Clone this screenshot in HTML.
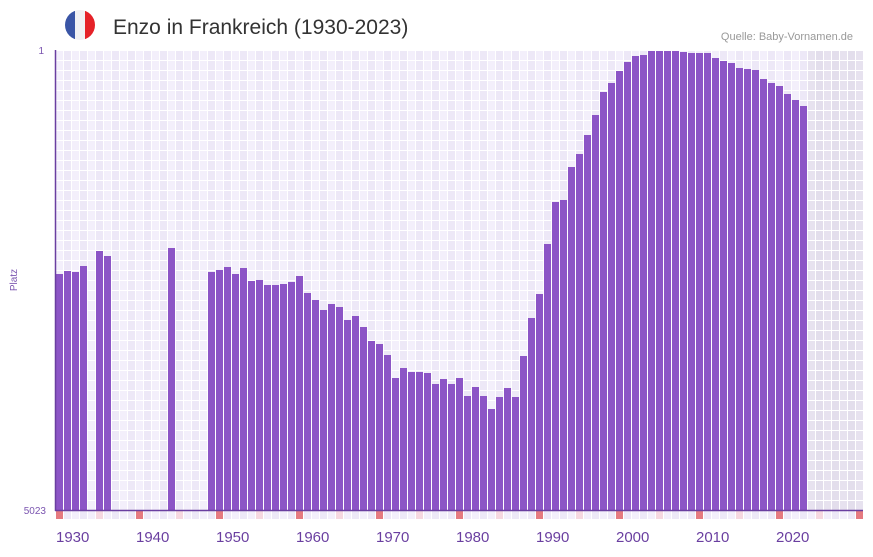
<!DOCTYPE html>
<html><head><meta charset="utf-8"><style>
body{margin:0;background:#fff;font-family:"Liberation Sans",sans-serif}
</style></head><body>
<svg id="s" width="873" height="552" xmlns="http://www.w3.org/2000/svg" font-family="Liberation Sans, sans-serif">
<defs><clipPath id="c"><circle cx="80" cy="25" r="15"/></clipPath></defs>
<g clip-path="url(#c)"><rect x="65" y="10" width="10" height="30" fill="#3a55a6"/><rect x="75" y="10" width="10" height="30" fill="#f1f1f4"/><rect x="85" y="10" width="10" height="30" fill="#e52228"/></g>
<text x="113" y="34" font-size="21" fill="#333">Enzo in Frankreich (1930-2023)</text>
<text x="853" y="40" font-size="11" fill="#999" text-anchor="end">Quelle: Baby-Vornamen.de</text>
<text x="44" y="54" font-size="10" fill="#7b55b0" text-anchor="end">1</text>
<text x="46" y="514" font-size="10" fill="#7b55b0" text-anchor="end">5023</text>
<text x="17" y="280" font-size="10" fill="#7b55b0" text-anchor="middle" transform="rotate(-90 17 280)">Platz</text>
<g id="g"></g>
<line x1="55.5" y1="50" x2="55.5" y2="511" stroke="#6a3fa0" stroke-width="1.5"/>
<line x1="55" y1="510.5" x2="863" y2="510.5" stroke="#6a3fa0" stroke-width="1.5"/>
</svg>
<script>
var g=document.getElementById('g'),h='';
var v={1930:274,1931:271,1932:272,1933:266,1935:251,1936:256,1944:248,1949:272,1950:270,1951:267,1952:274,1953:268,1954:281,1955:280,1956:285,1957:285,1958:284,1959:282,1960:276,1961:293,1962:300,1963:310,1964:304,1965:307,1966:320,1967:316,1968:327,1969:341,1970:344,1971:355,1972:378,1973:368,1974:372,1975:372,1976:373,1977:384,1978:379,1979:384,1980:378,1981:396,1982:387,1983:396,1984:409,1985:397,1986:388,1987:397,1988:356,1989:318,1990:294,1991:244,1992:202,1993:200,1994:167,1995:154,1996:135,1997:115,1998:92,1999:83,2000:71,2001:62,2002:56,2003:55,2004:51,2005:51,2006:51,2007:51,2008:52,2009:53,2010:53,2011:53,2012:58,2013:61,2014:63,2015:68,2016:69,2017:70,2018:79,2019:83,2020:86,2021:94,2022:100,2023:106};
h+='<rect x="55" y="50" width="808" height="460" fill="#fff"/>';
for(var i=0;i<101;i++){var y=1930+i,x=56+i*8;
 var col=y>=2024?(i%2?'#e3deec':'#e7e2ef'):(i%2?'#ede8f7':'#f3effb');
 for(var r=0;r<46;r++){h+='<rect x="'+x+'" y="'+(51+r*10)+'" width="7" height="9" fill="'+col+'"/>';}
 var m=y%10==0?'#e57a80':(y%5==0?'#f6d8e0':(i%2?'#ede8f7':'#f3effb'));
 h+='<rect x="'+x+'" y="511" width="7" height="8" fill="'+m+'"/>';
 if(v[y])h+='<rect x="'+x+'" y="'+v[y]+'" width="7" height="'+(510-v[y])+'" fill="#8c55c6"/>';
 if(y%10==0&&y<2030)h+='<text x="'+x+'" y="542" font-size="15" fill="#6a3fa0">'+y+'</text>';
}
g.innerHTML=h;
</script>
</body></html>
